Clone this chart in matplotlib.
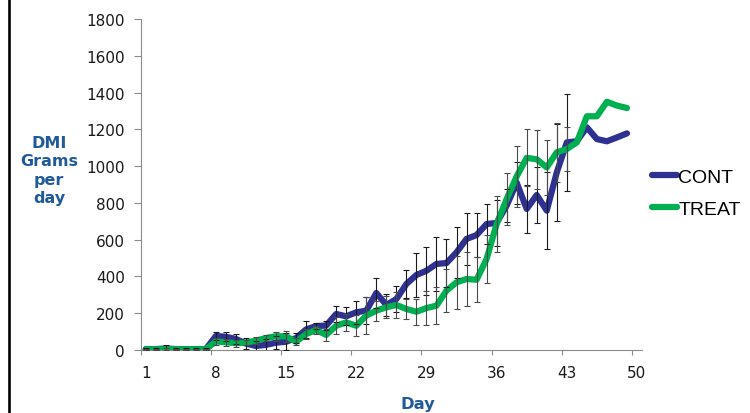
import numpy as np
import matplotlib
matplotlib.use("Agg")
import matplotlib.pyplot as plt
from matplotlib.lines import Line2D

days = list(range(1, 50))
cont = [5, 5, 8, 5, 5, 5, 5,
        76, 72, 60, 35, 22, 28, 40, 45,
        65, 112, 130, 133, 196, 183, 205, 214, 310, 245, 277, 359, 408, 431,
        468, 473, 531, 604, 625, 685, 691, 785, 910, 767, 843, 758, 966, 1129,
        1135, 1211, 1147, 1135, 1156, 1178]
treat = [4, 4, 4, 4, 4, 4, 4,
         47, 42, 37, 40, 51, 65, 75, 74,
         45, 87, 109, 82, 132, 150, 132, 187, 214, 232, 245, 223, 208, 228,
         241, 323, 368, 386, 382, 495, 685, 821, 944, 1045, 1037, 993, 1075, 1093,
         1129, 1271, 1271, 1350, 1329, 1316]
cont_err = [5, 5, 20, 5, 5, 5, 5,
            22, 24, 27, 30, 25, 33, 35, 45,
            25, 45, 18, 25, 42, 49, 63, 72, 82, 60, 72, 78, 120, 130,
            145, 130, 140, 141, 120, 109, 125, 91, 114, 131, 152, 210, 265, 262]
treat_err = [3, 3, 5, 3, 3, 3, 3,
             20, 20, 18, 15, 20, 18, 24, 30,
             20, 27, 22, 31, 45, 45, 58, 100, 54, 60, 72, 54, 72, 92,
             100, 115, 145, 145, 123, 130, 150, 140, 167, 155, 160, 151, 160, 120]
xtick_labels = [1, 8, 15, 22, 29, 36, 43, 50]
yticks = list(range(0, 1801, 200))

BLUE = "#2E3192"
GREEN = "#00B050"
LABEL_COLOR = "#215A98"
AXIS_GRAY = "#8C8C8C"

W, H = 750, 414
fig = plt.figure(figsize=(W / 100, H / 100), dpi=100)
ax = fig.add_axes([140.7 / W, 1 - 351 / H, (642 - 140.7) / W, (351 - 20) / H])

lw = 4.5
ax.plot(days, cont, color=BLUE, lw=lw, solid_capstyle="round", solid_joinstyle="round", zorder=2)
ax.plot(days, treat, color=GREEN, lw=lw, solid_capstyle="round", solid_joinstyle="round", zorder=3)

n_err = len(cont_err)
ax.errorbar(days[:n_err], cont[:n_err], yerr=cont_err, fmt="none", ecolor="#1a1a1a",
            elinewidth=0.8, capsize=2.3, capthick=0.8, zorder=4)
ax.errorbar(days[:n_err], treat[:n_err], yerr=treat_err, fmt="none", ecolor="#4a4a4a",
            elinewidth=0.8, capsize=2.3, capthick=0.8, zorder=4)

ax.set_xlim(0.5, 50.5)
ax.set_ylim(0, 1800)
ax.set_yticks(yticks)
ax.set_xticks(xtick_labels)
ax.set_xticklabels([str(v) for v in xtick_labels])
ax.set_xticks([v - 0.5 for v in xtick_labels], minor=True)

for s in ["top", "right"]:
    ax.spines[s].set_visible(False)
for s in ["left", "bottom"]:
    ax.spines[s].set_color(AXIS_GRAY)
    ax.spines[s].set_linewidth(0.8)

ax.tick_params(axis="x", which="major", length=0, pad=11, labelsize=11, labelcolor="#1a1a1a")
ax.tick_params(axis="x", which="minor", length=3.8, width=0.8, color=AXIS_GRAY, direction="out")
ax.tick_params(axis="y", which="major", length=5, width=0.8, color=AXIS_GRAY, direction="out",
               pad=6.5, labelsize=11, labelcolor="#1a1a1a")

fig.text(49 / W, 1 - 171 / H, "DMI\nGrams\nper\nday", ha="center", va="center",
         multialignment="center", fontsize=11.5, fontweight="bold", color=LABEL_COLOR,
         linespacing=1.3)
fig.text(418 / W, 1 - 405 / H, "Day", ha="center", va="center", fontsize=11.8,
         fontweight="bold", color=LABEL_COLOR)

handles = [Line2D([], [], color=BLUE, lw=lw, solid_capstyle="round"),
           Line2D([], [], color=GREEN, lw=lw, solid_capstyle="round")]
leg = fig.legend(handles, ["CONT", "TREAT"], loc="upper left",
                 bbox_to_anchor=(652 / W, 1 - 169 / H), frameon=False, borderpad=0,
                 borderaxespad=0, handlelength=1.3, handletextpad=0.05, labelspacing=0.75,
                 prop={"family": "Liberation Sans", "size": 14})

fig.add_artist(Line2D([8.5 / W, 8.5 / W], [0, 1], color="black", lw=1.9,
                      transform=fig.transFigure))

fig.savefig("out.png", dpi=100)
